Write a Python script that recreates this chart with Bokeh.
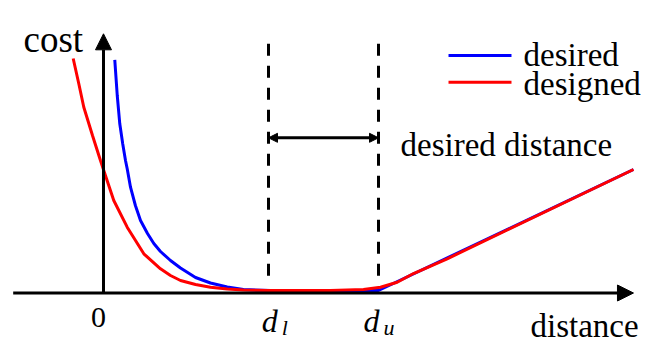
from bokeh.plotting import figure
from bokeh.models import Range1d, Arrow, NormalHead
from bokeh.core.properties import value
from bokeh.embed import file_html
from bokeh.resources import INLINE

# ---- data (distance units, cost units) ----
red_d = [-0.551, -0.45, -0.358, -0.2, -0.055, 0.005, 0.187, 0.431, 0.733, 1.036, 1.218, 1.4,
         1.673, 1.945, 2.25, 2.545, 3.0, 4.127, 4.727, 5.036, 5.34, 5.636, 6.249, 9.636]
red_c = [4.69, 4.19, 3.716, 3.15, 2.65, 2.45, 1.85, 1.316, 0.784, 0.484, 0.35, 0.25,
         0.17, 0.116, 0.08, 0.06, 0.05, 0.05, 0.07, 0.116, 0.216, 0.39, 0.684, 2.47]

blue_d = [0.205, 0.25, 0.296, 0.35, 0.4, 0.431, 0.491, 0.58, 0.673, 0.8, 0.915, 1.036, 1.218,
          1.4, 1.673, 1.945, 2.25, 2.545, 3.036, 5.0, 9.636]
blue_c = [4.664, 3.95, 3.384, 2.98, 2.65, 2.484, 2.116, 1.75, 1.45, 1.19, 0.99, 0.83, 0.65,
          0.5, 0.31, 0.2, 0.12, 0.07, 0.05, 0.05, 2.47]

d_lower = 3.0
d_upper = 5.0
tick_labels = ["0", "d", "d"]
sub_labels = ["l", "u"]

FONT = value("Liberation Serif")

p = figure(width=656, height=356, output_backend="svg", toolbar_location=None,
           x_range=Range1d(-1.8727, 10.0545), y_range=Range1d(-1.27, 5.85),
           x_axis_type=None, y_axis_type=None, min_border=0)
p.grid.visible = False
p.outline_line_color = None
p.background_fill_color = "white"

# axes with arrow heads
p.add_layout(Arrow(end=NormalHead(size=16, fill_color="black", line_color="black", line_width=1),
                   x_start=-1.642, y_start=0.0, x_end=9.636, y_end=0.0,
                   line_width=3, line_color="black"))
p.add_layout(Arrow(end=NormalHead(size=16, fill_color="black", line_color="black", line_width=1),
                   x_start=0.0, y_start=0.0, x_end=0.0, y_end=5.184,
                   line_width=3, line_color="black"))

# dashed vertical lines
for xv in (d_lower, d_upper):
    p.line([xv, xv], [4.984, 0.25], line_color="black", line_width=3, line_dash="12 10")

# double arrow for desired distance
p.add_layout(Arrow(start=NormalHead(size=9, fill_color="black", line_color="black", line_width=1),
                   end=NormalHead(size=9, fill_color="black", line_color="black", line_width=1),
                   x_start=d_lower, y_start=3.104, x_end=d_upper, y_end=3.104,
                   line_width=3, line_color="black"))

# curves
p.line(blue_d, blue_c, line_color="#0000ff", line_width=3)
p.line(red_d, red_c, line_color="#ff0000", line_width=3)

# legend (manual)
p.line([6.273, 7.418], [4.75, 4.75], line_color="#0000ff", line_width=3)
p.line([6.273, 7.418], [4.216, 4.216], line_color="#ff0000", line_width=3)
p.text([7.636, 7.636], [4.76, 4.19], text=["desired", "designed"], text_font=FONT,
       text_font_size="33px", text_baseline="alphabetic", text_align="left", text_color="black")

# texts
p.text([-1.4545], [5.08], text=["cost"], text_font=FONT, text_font_size="37px",
       text_baseline="alphabetic", text_align="left", text_color="black")
p.text([5.4], [2.96], text=["desired distance"], text_font=FONT, text_font_size="33px",
       text_baseline="alphabetic", text_align="left", text_color="black")
p.text([7.764], [-0.65], text=["distance"], text_font=FONT, text_font_size="33px",
       text_baseline="alphabetic", text_align="left", text_color="black")
p.text([-0.09], [-0.48], text=[tick_labels[0]], text_font=FONT, text_font_size="30px",
       text_baseline="alphabetic", text_align="center", text_color="black")
p.text([2.876, 4.727], [-0.55, -0.55], text=tick_labels[1:], text_font=FONT,
       text_font_size="32px", text_font_style="italic",
       text_baseline="alphabetic", text_align="left", text_color="black")
p.text([3.24, 5.09], [-0.68, -0.68], text=sub_labels, text_font=FONT,
       text_font_size="22px", text_font_style="italic",
       text_baseline="alphabetic", text_align="left", text_color="black")

open("out.html", "w").write(file_html(p, INLINE))
